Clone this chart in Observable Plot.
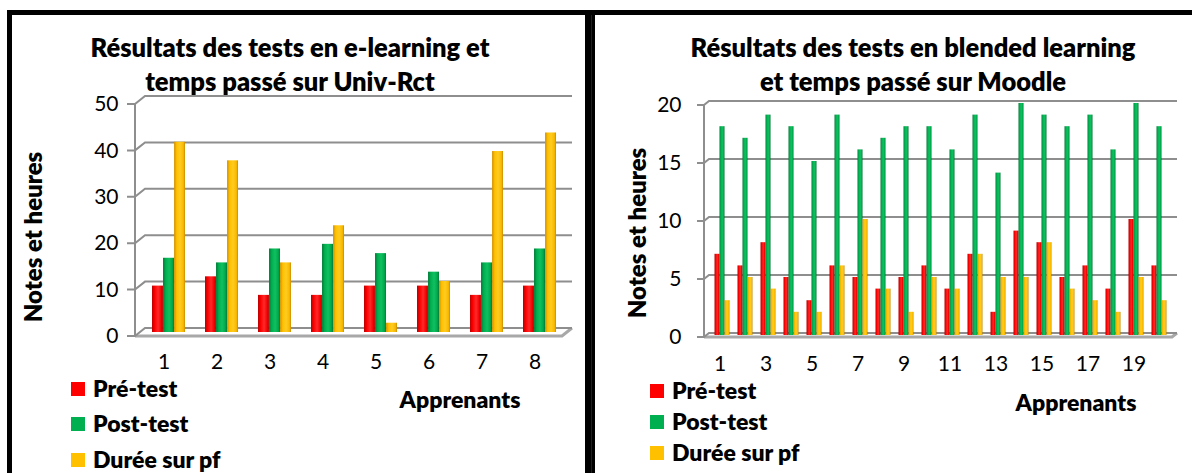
<!DOCTYPE html>
<html><head><meta charset="utf-8">
<script src="https://cdn.jsdelivr.net/npm/d3@7"></script>
<script src="https://cdn.jsdelivr.net/npm/@observablehq/plot@0.6"></script>
<style>
body{margin:0;background:#fff;font-family:Lato,"Open Sans",sans-serif;width:1192px;height:473px;overflow:hidden;position:relative;color:#000}
.panel{position:absolute;top:10px;height:480px;border:5px solid #000;box-sizing:border-box;}
.abs{position:absolute;}
.title{font-weight:800;font-size:25.5px;text-align:center;line-height:34px;white-space:nowrap}
.ylab{font-weight:800;font-size:24px;transform:rotate(-90deg);white-space:nowrap;text-align:center;width:240px;height:28px;line-height:28px}
.leg{font-weight:800;font-size:23px;white-space:nowrap;line-height:1}
.sw{position:absolute;width:14px;height:14px;}
.xl{font-weight:800;font-size:23px;white-space:nowrap;text-align:center;width:200px;line-height:1}
</style>
</head><body>
<svg width="0" height="0" style="position:absolute">
<defs>
<linearGradient id="gRed" x1="0" x2="1" y1="0" y2="0">
<stop offset="0" stop-color="#b80000"/><stop offset="0.25" stop-color="#ff0000"/><stop offset="0.55" stop-color="#ff2a2a"/><stop offset="0.85" stop-color="#f00000"/><stop offset="1" stop-color="#b00000"/>
</linearGradient>
<linearGradient id="gGreen" x1="0" x2="1" y1="0" y2="0">
<stop offset="0" stop-color="#007a36"/><stop offset="0.25" stop-color="#00b050"/><stop offset="0.55" stop-color="#10c060"/><stop offset="0.85" stop-color="#00a84c"/><stop offset="1" stop-color="#007432"/>
</linearGradient>
<linearGradient id="gYellow" x1="0" x2="1" y1="0" y2="0">
<stop offset="0" stop-color="#d09000"/><stop offset="0.25" stop-color="#ffc000"/><stop offset="0.55" stop-color="#ffcc22"/><stop offset="0.85" stop-color="#f8b800"/><stop offset="1" stop-color="#c88a00"/>
</linearGradient>
</defs></svg>

<div class="panel" style="left:7px;width:583px;"></div>
<div class="panel" style="left:590px;width:640px;"></div>
<div class="abs" style="left:591px;top:15px;width:1px;height:460px;background:#6a0000"></div>

<div class="abs title" style="left:40px;width:500px;top:30px">Résultats des tests en e-learning et<br>temps passé sur Univ-Rct</div>
<div class="abs title" style="left:663px;width:500px;top:30px">Résultats des tests en blended learning<br>et temps passé sur Moodle</div>

<div class="abs ylab" style="left:-87px;top:223px">Notes et heures</div>
<div class="abs ylab" style="left:517px;top:219px">Notes et heures</div>

<div id="chartA" class="abs" style="left:13px;top:90px"></div>
<div id="chartB" class="abs" style="left:595px;top:90px"></div>

<div id="legA"></div>
<div id="legB"></div>
<div class="abs xl" style="left:360px;top:388px">Apprenants</div>
<div class="abs xl" style="left:976px;top:391px">Apprenants</div>

<script>
// ---- data ----
const seriesNames = ["Pré-test", "Post-test", "Durée sur pf"];
const seriesColors = ["#ff0000", "#00b050", "#ffc000"];
const seriesFills = ["url(#gRed)", "url(#gGreen)", "url(#gYellow)"];

const learnersA = [1, 2, 3, 4, 5, 6, 7, 8];
const preA = [10, 12, 8, 8, 10, 10, 8, 10];
const postA = [16, 15, 18, 19, 17, 13, 15, 18];
const dureeA = [41, 37, 15, 23, 2, 11, 39, 43];
const yTicksA = [0, 10, 20, 30, 40, 50];
const xTicksA = [1, 2, 3, 4, 5, 6, 7, 8];

const learnersB = [1, 2, 3, 4, 5, 6, 7, 8, 9, 10, 11, 12, 13, 14, 15, 16, 17, 18, 19, 20];
const preB = [7, 6, 8, 5, 3, 6, 5, 4, 5, 6, 4, 7, 2, 9, 8, 5, 6, 4, 10, 6];
const postB = [18, 17, 19, 18, 15, 19, 16, 17, 18, 18, 16, 19, 14, 20, 19, 18, 19, 16, 20, 18];
const dureeB = [3, 5, 4, 2, 2, 6, 10, 4, 2, 5, 4, 7, 5, 5, 8, 4, 3, 2, 5, 3];
const yTicksB = [0, 5, 10, 15, 20];
const xTicksB = [1, 3, 5, 7, 9, 11, 13, 15, 17, 19];

function rows(learners, arrays) {
  const out = [];
  arrays.forEach((arr, si) => learners.forEach((l, i) => out.push({learner: l, series: seriesNames[si], si, value: arr[i]})));
  return out;
}

// 3D wall / floor drawn from the y scale
function wallMark(ticks, ddx, ddy, tickLen) {
  return (index, scales, values, dim) => {
    const y = scales.y;
    const ax = dim.marginLeft;
    const xr = dim.width - dim.marginRight;
    const g = d3.create("svg:g").attr("fill", "none").attr("stroke", "#8e8e8e").attr("stroke-width", 2);
    const y0 = y(0), yMax = y(ticks[ticks.length - 1]);
    g.append("path").attr("d", `M${ax},${y0}L${xr},${y0}L${xr + ddx},${y0 + ddy}`).attr("stroke", "#a8a8a8").attr("stroke-width", 3);
    for (const t of ticks) {
      const yy = y(t);
      g.append("path").attr("d", `M${ax - tickLen},${yy}L${ax},${yy}L${ax + ddx},${yy + ddy}L${xr + ddx},${yy + ddy}`);
    }
    g.append("path").attr("d", `M${ax},${y0}L${ax},${yMax}`);
    return g.node();
  };
}

function chart(opts) {
  const {learners, arrays, yTicks, xTicks, width, height, mL, mR, mT, mB, pad, ddx, ddy, tickLen, yPad, xPad} = opts;
  const data = rows(learners, arrays);
  const L = width - mL - mR;
  const step = L / learners.length;
  const bw = step * (1 - pad);
  const w = bw / 3;
  const marks = [wallMark(yTicks, ddx, ddy, tickLen)];
  for (let si = 0; si < 3; si++) {
    marks.push(Plot.barY(data.filter(d => d.si === si), {
      x: "learner", y: "value",
      fill: seriesFills[si],
      insetLeft: si * w, insetRight: (2 - si) * w,
      dx: ddx / 2, dy: ddy / 2
    }));
  }
  return Plot.plot({
    width, height,
    marginLeft: mL, marginRight: mR, marginTop: mT, marginBottom: mB,
    style: {fontFamily: "Lato, 'Open Sans', sans-serif", fontSize: "21px", color: "#000", background: "transparent", overflow: "visible"},
    x: {type: "band", domain: learners, paddingInner: pad, paddingOuter: pad / 2, ticks: xTicks, tickSize: 0, tickPadding: xPad, label: null},
    y: {domain: [0, yTicks[yTicks.length - 1]], ticks: yTicks, tickSize: 0, tickPadding: yPad, label: null},
    marks
  });
}

document.getElementById("chartA").appendChild(chart({
  learners: learnersA, arrays: [preA, postA, dureeA], yTicks: yTicksA, xTicks: xTicksA,
  width: 572, height: 300, mL: 122, mR: 23, mT: 14, mB: 54, pad: 0.38,
  ddx: 10, ddy: -8, tickLen: 8, yPad: 17, xPad: 18
}));
document.getElementById("chartB").appendChild(chart({
  learners: learnersB, arrays: [preB, postB, dureeB], yTicks: yTicksB, xTicks: xTicksB,
  width: 597, height: 300, mL: 109, mR: 20, mT: 15, mB: 53, pad: 0.36,
  ddx: 5, ddy: -4, tickLen: 7, yPad: 23, xPad: 19
}));

function legend(id, left, swLeft, tops) {
  const el = document.getElementById(id);
  seriesNames.forEach((n, i) => {
    const sw = document.createElement("div");
    sw.className = "sw";
    sw.style.left = swLeft + "px";
    sw.style.top = (tops[i] - 6) + "px";
    sw.style.background = seriesColors[i];
    el.appendChild(sw);
    const t = document.createElement("div");
    t.className = "abs leg";
    t.style.left = left + "px";
    t.style.top = (tops[i] - 11) + "px";
    t.textContent = n;
    el.appendChild(t);
  });
}
legend("legA", 93, 71, [388, 423, 459]);
legend("legB", 672, 650, [390, 421, 452]);
</script>
</body></html>
